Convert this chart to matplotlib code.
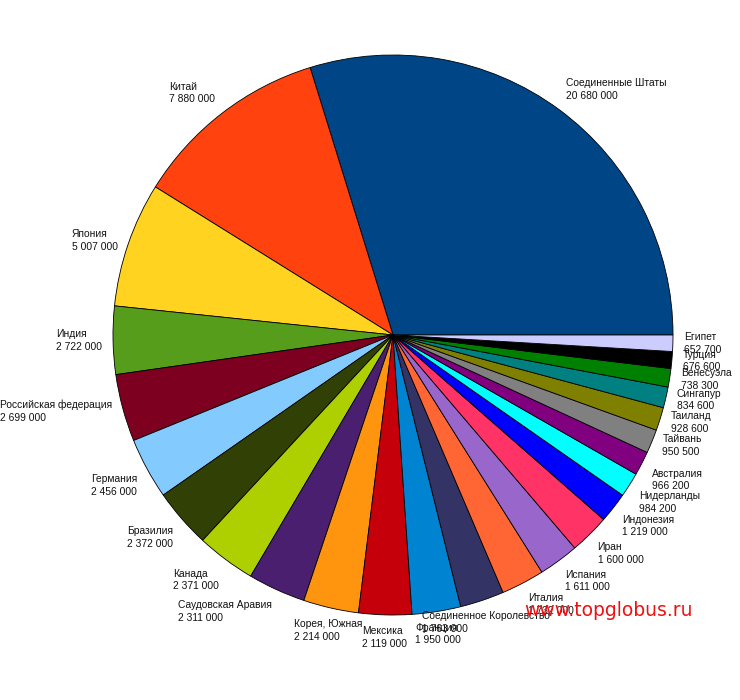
import numpy as np
import matplotlib
matplotlib.use('Agg')
import matplotlib.pyplot as plt

countries = ['Соединенные Штаты', 'Китай', 'Япония', 'Индия', 'Российская федерация',
             'Германия', 'Бразилия', 'Канада', 'Саудовская Аравия', 'Корея, Южная',
             'Мексика', 'Франция', 'Соединенное Королевство', 'Италия', 'Испания',
             'Иран', 'Индонезия', 'Нидерланды', 'Австралия', 'Тайвань',
             'Таиланд', 'Сингапур', 'Венесуэла', 'Турция', 'Египет']
values = [20680000, 7880000, 5007000, 2722000, 2699000,
          2456000, 2372000, 2371000, 2311000, 2214000,
          2119000, 1950000, 1763000, 1732000, 1611000,
          1600000, 1219000, 984200, 966200, 950500,
          928600, 834600, 738300, 676600, 652700]
colors = ['#004586', '#ff420e', '#ffd320', '#579d1c', '#7e0021',
          '#83caff', '#314004', '#aecf00', '#4b1f6f', '#ff950e',
          '#c5000b', '#0084d1', '#333366', '#ff6633', '#9966cc',
          '#ff3366', '#0000ff', '#00ffff', '#800080', '#808080',
          '#808000', '#008080', '#008000', '#000000', '#ccccff']

plt.rcParams['font.family'] = ['Liberation Sans', 'DejaVu Sans']

fig = plt.figure(figsize=(7.4, 7.0), dpi=100)
# pie centre ~ (393, 335) px, radius ~ 280 px
ax = fig.add_axes([(393 - 280) / 740, (700 - 335 - 280) / 700, 560 / 740, 560 / 700])

wedges, _ = ax.pie(values, colors=colors, startangle=0, counterclock=True,
                   radius=1.0, wedgeprops=dict(edgecolor='black', linewidth=0.6))

# labels outside the slices, placed like the office suite does it
total = float(sum(values))
start = 0.0
for name, v in zip(countries, values):
    span = v / total * 360.0
    mid = np.radians(start + span / 2)
    start += span
    c, s = np.cos(mid), np.sin(mid)
    if c > 0.38:
        ha = 'left'
    elif c < -0.38:
        ha = 'right'
    else:
        ha = 'center'
    if s > 0.38:
        va = 'bottom'
    elif s < -0.38:
        va = 'top'
    else:
        va = 'center'
    r = 1.04
    txt = name + '\n' + f'{v:,}'.replace(',', ' ')
    ax.text(r * c, r * s, txt, ha=ha, va=va, multialignment='left',
            fontsize=7.4, color='#111111', linespacing=1.35)

ax.set_xlim(-1, 1)
ax.set_ylim(-1, 1)
ax.set_aspect('equal')
ax.axis('off')

fig.text(524 / 740, 1 - 611 / 700, 'www.topglobus.ru', color='#ee1111',
         fontsize=13.5, family='DejaVu Sans', ha='left', va='center')

fig.savefig('out.png', dpi=100, facecolor='white')
